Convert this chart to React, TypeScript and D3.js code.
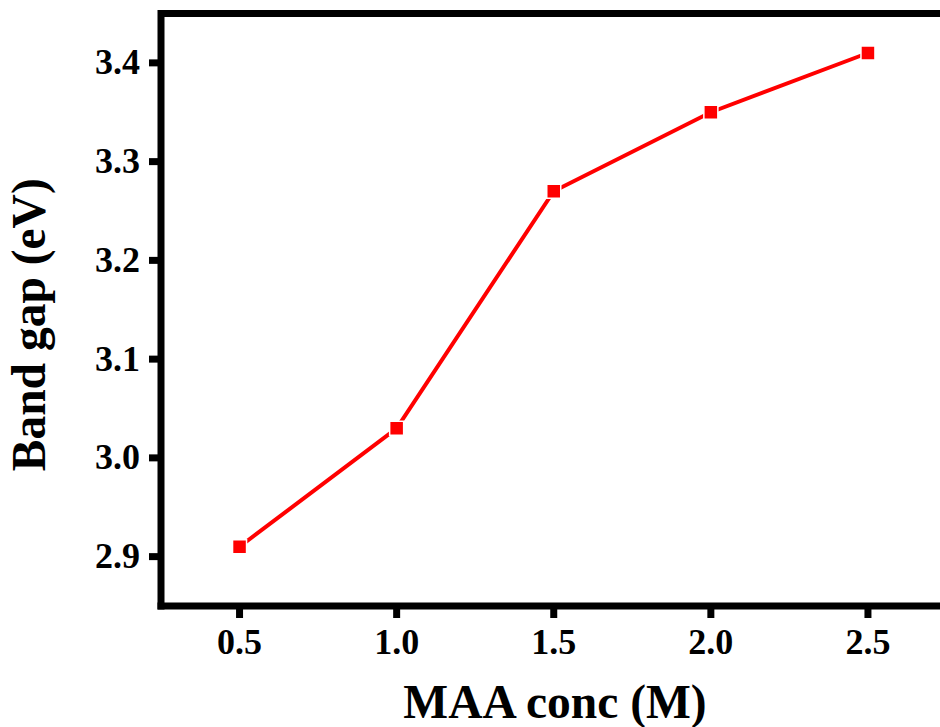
import React, { useEffect, useRef } from 'react';
import * as d3 from 'd3';

const concs = [0.5, 1.0, 1.5, 2.0, 2.5];
const bandGap = [2.91, 3.03, 3.27, 3.35, 3.41];
const xTicks = [0.5, 1.0, 1.5, 2.0, 2.5];
const yTicks = [2.9, 3.0, 3.1, 3.2, 3.3, 3.4];

const App = () => {
  const svgRef = useRef<SVGSVGElement>(null);

  useEffect(() => {
    const svg = d3.select(svgRef.current);
    svg.selectAll('*').remove();

    const left = 161, right = 946.5, top = 13.5, bottom = 606;
    const x = d3.scaleLinear().domain([0.25, 2.75]).range([left, right]);
    const y = d3.scaleLinear().domain([2.85, 3.45]).range([bottom, top]);
    const font = '"Liberation Serif", "Times New Roman", serif';

    const g = svg.append('g');

    // frame: left, top, bottom
    g.append('path')
      .attr('d', `M${left},${bottom} L${left},${top} L${right},${top}`)
      .attr('fill', 'none').attr('stroke', '#000').attr('stroke-width', 7)
      .attr('stroke-linecap', 'square');
    g.append('line')
      .attr('x1', left).attr('x2', right).attr('y1', bottom).attr('y2', bottom)
      .attr('stroke', '#000').attr('stroke-width', 7).attr('stroke-linecap', 'square');

    // y ticks
    g.selectAll('.yt').data(yTicks).enter().append('line')
      .attr('x1', left - 12).attr('x2', left)
      .attr('y1', d => y(d)).attr('y2', d => y(d))
      .attr('stroke', '#000').attr('stroke-width', 7);
    g.selectAll('.yl').data(yTicks).enter().append('text')
      .attr('x', 140).attr('y', d => y(d) + 11.5)
      .attr('text-anchor', 'end')
      .attr('font-family', font).attr('font-weight', 'bold').attr('font-size', 36)
      .text(d => d.toFixed(1));

    // x ticks
    g.selectAll('.xt').data(xTicks).enter().append('line')
      .attr('x1', d => x(d)).attr('x2', d => x(d))
      .attr('y1', bottom).attr('y2', bottom + 12)
      .attr('stroke', '#000').attr('stroke-width', 7);
    g.selectAll('.xl').data(xTicks).enter().append('text')
      .attr('x', d => x(d)).attr('y', 654)
      .attr('text-anchor', 'middle')
      .attr('font-family', font).attr('font-weight', 'bold').attr('font-size', 36)
      .text(d => d.toFixed(1));

    // titles
    g.append('text')
      .attr('x', 555).attr('y', 718)
      .attr('text-anchor', 'middle')
      .attr('font-family', font).attr('font-weight', 'bold').attr('font-size', 47.5)
      .text('MAA conc (M)');
    g.append('text')
      .attr('transform', `translate(45,${(top + bottom) / 2 + 15}) rotate(-90)`)
      .attr('text-anchor', 'middle')
      .attr('font-family', font).attr('font-weight', 'bold').attr('font-size', 47.5)
      .text('Band gap (eV)');

    const pts = concs.map((c, i) => [c, bandGap[i]] as [number, number]);
    const line = d3.line<[number, number]>().x(d => x(d[0])).y(d => y(d[1]));

    g.append('path')
      .attr('d', line(pts))
      .attr('fill', 'none').attr('stroke', '#ff0000').attr('stroke-width', 4);

    g.selectAll('.pt').data(pts).enter().append('rect')
      .attr('x', d => x(d[0]) - 7).attr('y', d => y(d[1]) - 7)
      .attr('width', 14).attr('height', 14)
      .attr('fill', '#ff0000').attr('stroke', '#fff').attr('stroke-width', 1.5);
  }, []);

  return (
    <svg ref={svgRef} width={940} height={727}
      style={{ position: 'absolute', left: 0, top: 0, background: '#fff' }} />
  );
};

export default App;
